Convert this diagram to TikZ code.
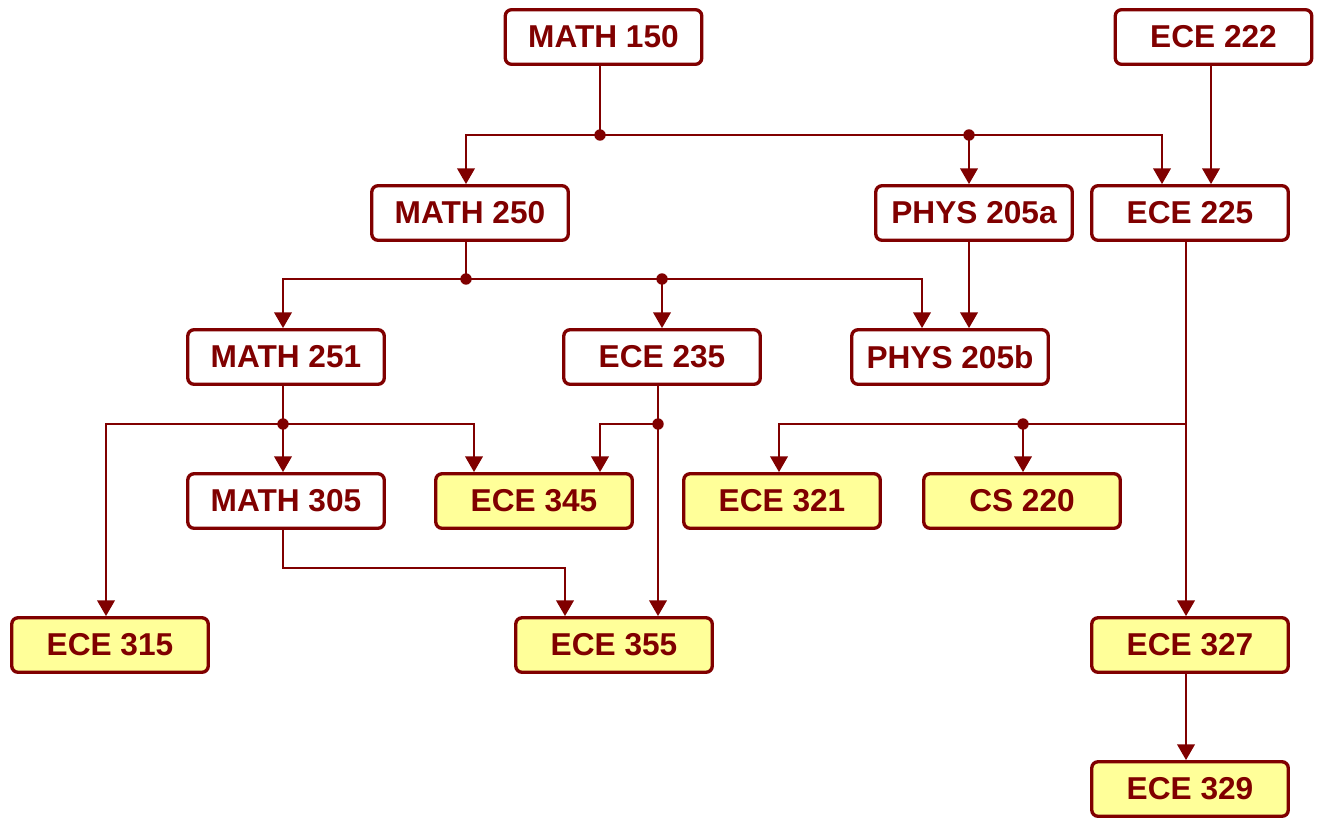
\documentclass[tikz,border=0pt]{standalone}
\usepackage{fontspec}
\setmainfont{Liberation Sans}
\usetikzlibrary{arrows.meta}
\definecolor{dred}{RGB}{128,0,0}
\definecolor{lyellow}{RGB}{255,255,153}
\tikzset{
  box/.style={draw=dred, line width=1.9pt, rounded corners=3.5pt, minimum width=3.93cm, minimum height=1.09cm,
    font=\bfseries\fontsize{18}{18}\selectfont, text=dred, fill=white, inner sep=0pt},
  req/.style={box, fill=lyellow},
  wire/.style={draw=dred, line width=1.3pt},
  arr/.style={wire, -{Triangle[width=10pt,length=9pt]}},
  jdot/.style={circle, fill=dred, inner sep=0pt, minimum size=6.5pt}
}
\begin{document}
\begin{tikzpicture}[x=0.02cm, y=-0.02cm]
\useasboundingbox (0,0) rectangle (1324,818);
% nodes
\node[box] (m150) at (603.5,37) {MATH 150};
\node[box] (e222) at (1213.5,37) {ECE 222};
\node[box] (m250) at (470,213) {MATH 250};
\node[box] (p205a) at (974,213) {PHYS 205a};
\node[box] (e225) at (1190,213) {ECE 225};
\node[box] (m251) at (286,357) {MATH 251};
\node[box] (e235) at (662,357) {ECE 235};
\node[box] (p205b) at (950,357) {PHYS 205b};
\node[box] (m305) at (286,501) {MATH 305};
\node[req] (e345) at (534,501) {ECE 345};
\node[req] (e321) at (782,501) {ECE 321};
\node[req] (cs220) at (1022,501) {CS 220};
\node[req] (e315) at (110,645) {ECE 315};
\node[req] (e355) at (614,645) {ECE 355};
\node[req] (e327) at (1190,645) {ECE 327};
\node[req] (e329) at (1190,789) {ECE 329};
% junction coordinates
\coordinate (j1) at (600,135);
\coordinate (j2) at (969,135);
\coordinate (t1) at (1162,135);
\coordinate (t0) at (1211,135);
\coordinate (j3) at (466,279);
\coordinate (j4) at (662,279);
\coordinate (t2) at (922,279);
\coordinate (j5) at (283,424);
\coordinate (t4) at (106,424);
\coordinate (t5) at (474,424);
\coordinate (j6) at (658,424);
\coordinate (t6) at (600,424);
\coordinate (t7) at (1186,424);
\coordinate (t8) at (779,424);
\coordinate (j7) at (1023,424);
\coordinate (t9) at (283,568);
\coordinate (t10) at (565,568);
% MATH 150 level
\draw[wire] (m150.south -| j1) -- (j1);
\draw[arr] (j1) -| (m250.north -| j3);
\draw[arr] (j1) -- (j2) -- (j2 |- p205a.north);
\draw[arr] (j2) -- (t1) -- (t1 |- e225.north);
\draw[arr] (e222.south -| t0) -- (t0 |- e225.north);
% MATH 250 level
\draw[wire] (m250.south -| j3) -- (j3);
\draw[arr] (j3) -| (m251.north -| j5);
\draw[arr] (j3) -- (j4) -- (j4 |- e235.north);
\draw[arr] (j4) -- (t2) -- (t2 |- p205b.north);
\draw[arr] (p205a.south -| j2) -- (j2 |- p205b.north);
% MATH 251 level
\draw[wire] (m251.south -| j5) -- (j5);
\draw[arr] (j5) -- (j5 |- m305.north);
\draw[arr] (j5) -- (t4) -- (t4 |- e315.north);
\draw[arr] (j5) -- (t5) -- (t5 |- e345.north);
% ECE 235
\draw[arr] (e235.south -| j6) -- (j6 |- e355.north);
\draw[arr] (j6) -- (t6) -- (t6 |- e345.north);
% ECE 225
\draw[arr] (e225.south -| t7) -- (t7 |- e327.north);
\draw[arr] (t7) -- (t8) -- (t8 |- e321.north);
\draw[arr] (j7) -- (j7 |- cs220.north);
% MATH 305
\draw[arr] (m305.south -| t9) -- (t9) -- (t10) -- (t10 |- e355.north);
% ECE 327
\draw[arr] (e327.south -| t7) -- (t7 |- e329.north);
% dots
\foreach \j in {j1,j2,j3,j4,j5,j6,j7} \node[jdot] at (\j) {};
\end{tikzpicture}
\end{document}
